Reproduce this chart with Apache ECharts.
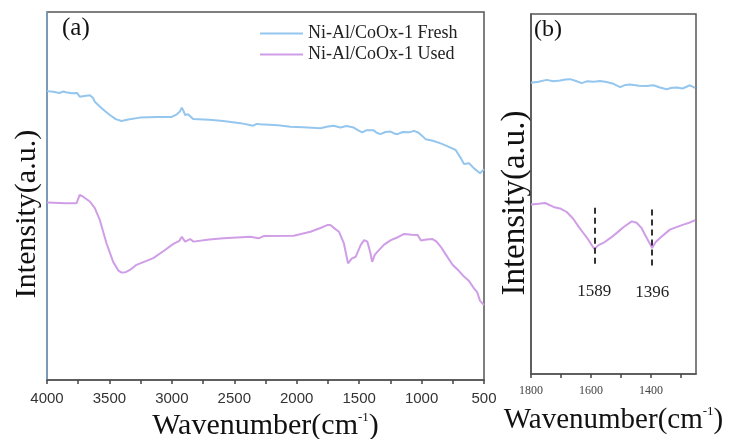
<!DOCTYPE html>
<html>
<head>
<meta charset="utf-8">
<script src="https://cdn.jsdelivr.net/npm/echarts@6/dist/echarts.min.js"></script>
<style>
  html, body { margin: 0; padding: 0; background: #ffffff; }
  #chart { width: 730px; height: 439px; }
</style>
</head>
<body>
<div id="chart"></div>
<script>
// FTIR spectra of Ni-Al/CoOx-1, fresh and used catalyst
// Panel (a): full range, [wavenumber cm-1, intensity a.u.]
const freshFull = [
  [4000,78.5],[3950,78.3],[3900,78.0],[3870,78.4],[3850,78.2],[3800,77.9],[3760,78.0],[3738,77.0],
  [3700,77.2],[3657,77.4],[3630,76.6],[3617,75.6],[3560,73.8],[3497,72.0],[3450,70.9],[3403,70.4],
  [3350,70.8],[3256,71.3],[3122,71.5],[3001,71.5],[2960,72.2],[2935,73.0],[2920,74.0],[2905,73.0],
  [2894,72.0],[2870,72.2],[2854,72.6],[2830,70.9],[2700,70.7],[2589,70.4],[2450,69.8],[2348,69.1],
  [2320,69.6],[2292,69.5],[2150,69.2],[2051,68.8],[1950,68.7],[1810,68.4],[1760,68.8],[1705,69.1],
  [1650,68.6],[1600,69.0],[1544,68.6],[1510,67.9],[1476,67.3],[1440,67.9],[1385,67.9],[1360,67.2],
  [1329,66.8],[1290,67.4],[1248,67.5],[1220,67.0],[1194,66.8],[1150,67.4],[1100,67.3],[1060,67.7],
  [1024,67.2],[990,66.2],[967,65.4],[910,65.0],[847,64.3],[790,63.5],[727,62.5],[690,60.5],
  [660,58.7],[620,58.9],[580,57.5],[531,56.2],[500,57.3]
];
const usedFull = [
  [4000,48.2],[3900,48.1],[3850,48.0],[3764,48.0],[3738,50.3],[3711,49.8],[3657,48.5],[3617,46.7],
  [3577,43.5],[3523,37.1],[3470,32.1],[3430,29.8],[3403,29.2],[3370,29.3],[3336,29.9],[3283,31.3],
  [3149,33.1],[3060,35.2],[2988,37.0],[2940,37.8],[2920,38.9],[2894,37.6],[2854,38.3],[2827,37.6],
  [2700,38.2],[2586,38.5],[2372,38.9],[2305,38.5],[2265,39.1],[2024,39.2],[1890,40.3],[1810,41.3],
  [1756,42.1],[1730,42.1],[1690,41.0],[1662,40.3],[1622,37.1],[1600,33.5],[1589,31.7],[1560,33.0],
  [1527,33.5],[1487,36.7],[1460,38.0],[1434,37.6],[1410,34.5],[1396,32.1],[1375,34.0],[1353,34.9],
  [1300,36.8],[1246,38.0],[1190,38.8],[1139,39.7],[1080,39.5],[1032,39.4],[1005,37.9],[960,38.2],
  [912,38.3],[880,37.6],[846,36.2],[800,33.8],[752,31.3],[700,29.6],[660,28.1],[620,26.9],
  [580,24.9],[555,23.9],[532,21.5],[500,20.4]
];

// Panel (b): 1800-1250 cm-1 detail
const freshZoom = [
  [1800,80.9],[1775,81.2],[1748,81.7],[1725,81.3],[1703,81.5],[1685,81.8],[1670,81.9],[1650,81.4],
  [1631,80.8],[1614,81.3],[1590,81.2],[1570,81.4],[1548,81.1],[1525,80.6],[1503,79.7],[1485,80.3],
  [1470,80.4],[1440,80.1],[1414,80.0],[1392,80.2],[1370,79.6],[1348,79.1],[1330,79.5],[1314,79.6],
  [1295,79.3],[1270,80.2],[1253,79.5]
];
const usedZoom = [
  [1800,47.1],[1775,47.3],[1753,47.5],[1725,46.4],[1700,45.9],[1681,45.0],[1660,43.2],[1642,41.0],
  [1625,39.1],[1609,37.3],[1589,34.7],[1575,35.8],[1559,36.4],[1535,37.8],[1514,39.2],[1490,40.9],
  [1464,42.4],[1448,42.0],[1432,40.6],[1420,38.7],[1396,35.0],[1385,36.6],[1370,37.8],[1350,39.2],
  [1337,40.1],[1315,40.8],[1292,41.5],[1270,42.1],[1253,42.7]
];
const peakMarks = [1589, 1396];
const peakSpan = [[46.2, 29.8], [45.7, 29.5]];

const seriesNames = ['Ni-Al/CoOx-1 Fresh', 'Ni-Al/CoOx-1 Used'];
const freshColor = '#94c6ee';
const usedColor = '#cf9ee6';
const serif = '"Liberation Serif", "Times New Roman", serif';
const sans = '"Liberation Sans", Arial, sans-serif';

const chart = echarts.init(document.getElementById('chart'), null, { renderer: 'canvas' });

const axisNameRich = {
  sup: { fontSize: 13, fontFamily: serif, color: '#111', verticalAlign: 'top', lineHeight: 30 }
};

chart.setOption({
  animation: false,
  backgroundColor: '#ffffff',
  legend: {
    data: seriesNames,
    orient: 'vertical',
    left: 260,
    top: 23,
    padding: 0,
    itemWidth: 43,
    itemHeight: 2,
    itemGap: 0,
    icon: 'rect',
    textStyle: { fontFamily: serif, fontSize: 18, color: '#222', lineHeight: 21 }
  },
  grid: [
    { left: 47, top: 12, width: 437, height: 368, outerBoundsMode: 'none', containLabel: false,
      show: true, borderColor: '#555', borderWidth: 1.5, backgroundColor: 'transparent' },
    { left: 531, top: 14, width: 165, height: 360, outerBoundsMode: 'none', containLabel: false,
      show: true, borderColor: '#555', borderWidth: 1.5, backgroundColor: 'transparent' }
  ],
  xAxis: [
    {
      gridIndex: 0, type: 'value', min: 500, max: 4000, interval: 250, inverse: true,
      axisLine: { show: true, onZero: false, lineStyle: { color: '#555', width: 1.5 } },
      axisTick: { show: true, inside: false, length: 4, lineStyle: { color: '#444', width: 1.5 } },
      axisLabel: {
        fontFamily: sans, fontSize: 15, color: '#333', margin: 11,
        formatter: v => (v % 500 === 0 ? String(v) : '')
      },
      splitLine: { show: false },
      name: 'Wavenumber(cm{sup|-1})', nameLocation: 'middle', nameGap: 28,
      nameTextStyle: { fontFamily: serif, fontSize: 30, color: '#111', rich: axisNameRich }
    },
    {
      gridIndex: 1, type: 'value', min: 1250, max: 1800, inverse: true,
      axisLine: { show: true, onZero: false, lineStyle: { color: '#555', width: 1.5 } },
      axisTick: { show: true, inside: false, length: 4, lineStyle: { color: '#444', width: 1.5 },
        customValues: [1800, 1700, 1600, 1500, 1400, 1300] },
      axisLabel: { fontFamily: serif, fontSize: 12, color: '#444', margin: 11,
        customValues: [1800, 1600, 1400], formatter: v => String(v) },
      splitLine: { show: false },
      name: 'Wavenumber(cm{sup|-1})', nameLocation: 'middle', nameGap: 31,
      nameTextStyle: { fontFamily: serif, fontSize: 29, color: '#111', rich: axisNameRich }
    }
  ],
  yAxis: [
    {
      gridIndex: 0, type: 'value', min: 0, max: 100,
      axisLine: { show: true, lineStyle: { color: '#7aa3c9', width: 1.5 } },
      axisTick: { show: false }, axisLabel: { show: false }, splitLine: { show: false }
    },
    {
      gridIndex: 1, type: 'value', min: 0, max: 100,
      axisLine: { show: true, lineStyle: { color: '#555', width: 1.5 } },
      axisTick: { show: false }, axisLabel: { show: false }, splitLine: { show: false }
    }
  ],
  series: [
    {
      name: seriesNames[0], type: 'line', xAxisIndex: 0, yAxisIndex: 0, data: freshFull,
      showSymbol: false, symbol: 'none', color: freshColor, lineStyle: { color: freshColor, width: 2 }
    },
    {
      name: seriesNames[1], type: 'line', xAxisIndex: 0, yAxisIndex: 0, data: usedFull,
      showSymbol: false, symbol: 'none', color: usedColor, lineStyle: { color: usedColor, width: 2 }
    },
    {
      name: seriesNames[0], type: 'line', xAxisIndex: 1, yAxisIndex: 1, data: freshZoom,
      showSymbol: false, symbol: 'none', color: freshColor, lineStyle: { color: freshColor, width: 2 }
    },
    {
      name: seriesNames[1], type: 'line', xAxisIndex: 1, yAxisIndex: 1, data: usedZoom,
      showSymbol: false, symbol: 'none', color: usedColor, lineStyle: { color: usedColor, width: 2 },
      markLine: {
        silent: true, symbol: ['none', 'none'], animation: false,
        lineStyle: { color: '#333', width: 2, type: [6, 4] },
        label: {
          show: true, position: 'end', distance: 16,
          fontFamily: serif, fontSize: 17, color: '#222',
          formatter: p => String(p.data.coord ? p.data.coord[0] : p.value)
        },
        data: peakMarks.map((w, i) => [
          { coord: [w, peakSpan[i][0]] },
          { coord: [w, peakSpan[i][1]] }
        ])
      }
    }
  ],
  graphic: [
    { type: 'text', left: 62, top: 16, style: { text: '(a)', font: '25px ' + serif, fill: '#111' } },
    { type: 'text', left: 534, top: 18, style: { text: '(b)', font: '24px ' + serif, fill: '#111' } },
    { type: 'text', x: 27, y: 214, rotation: Math.PI / 2,
      style: { text: 'Intensity(a.u.)', font: '30px ' + serif, fill: '#111', align: 'center', verticalAlign: 'middle' } },
    { type: 'text', x: 515, y: 203, rotation: Math.PI / 2,
      style: { text: 'Intensity(a.u.)', font: '33px ' + serif, fill: '#111', align: 'center', verticalAlign: 'middle' } }
  ]
});
</script>
</body>
</html>
